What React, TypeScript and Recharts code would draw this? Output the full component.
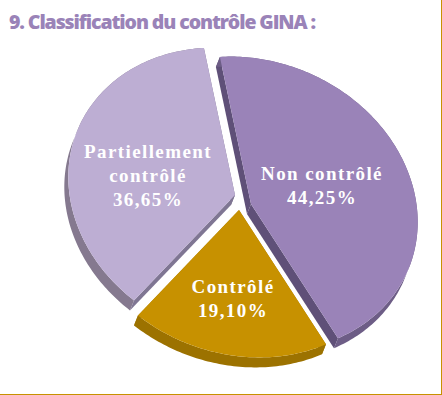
import { Pie, PieChart } from 'recharts';

const categories = ['Non contrôlé', 'Contrôlé', 'Partiellement contrôlé'];
const values = [44.25, 19.1, 36.65];
const valueLabels = ['44,25%', '19,10%', '36,65%'];
const title = '9. Classification du contrôle GINA :';

const topColors = ['#9A83B8', '#C79100', '#BDAED3'];
const edgeColors = ['#5F5078', '#A67A00', '#7F7693'];
const rimColors = ['#6D5D86', '#9C7200', '#85798F'];

// projection du disque 3D d'origine (cercle unité -> écran, y vers le bas)
const PROJ = { a: 166.5, b: -8, c: 11, d: -147 };
const DEPTH_X = -4;
const DEPTH_Y = 10;
// décalage de chaque part éclatée par rapport au centre
const OFFSETS = [
  [11, 2],
  [-1, 8],
  [-5, -7],
];

const LABEL_POS = [
  { x: 322, y: 180 },
  { x: 233, y: 293 },
  { x: 148, y: 158 },
];

const RAD = Math.PI / 180;

function SliceShape(props: any) {
  const { cx, cy, startAngle, endAngle, fill, index } = props;
  const ox = cx + OFFSETS[index][0];
  const oy = cy + OFFSETS[index][1];
  const pt = (deg: number) => {
    const cos = Math.cos(deg * RAD);
    const sin = Math.sin(deg * RAD);
    return [ox + PROJ.a * cos + PROJ.b * sin, oy + PROJ.c * cos + PROJ.d * sin];
  };
  const steps = Math.ceil(Math.abs(endAngle - startAngle));
  const arc: number[][] = [];
  for (let i = 0; i <= steps; i++) {
    arc.push(pt(startAngle + ((endAngle - startAngle) * i) / steps));
  }
  const [ax, ay] = arc[0];
  const [bx, by] = arc[arc.length - 1];
  const top = `M${ox},${oy}` + arc.map((p) => `L${p[0]},${p[1]}`).join('') + 'Z';
  const rim =
    arc.map((p, i) => `${i === 0 ? 'M' : 'L'}${p[0]},${p[1]}`).join('') +
    [...arc].reverse().map((p) => `L${p[0] + DEPTH_X},${p[1] + DEPTH_Y}`).join('') +
    'Z';
  const quad = (x: number, y: number) =>
    `M${ox},${oy}L${x},${y}l${DEPTH_X},${DEPTH_Y}L${ox + DEPTH_X},${oy + DEPTH_Y}Z`;
  return (
    <g>
      <path d={quad(ax, ay)} fill={edgeColors[index]} />
      <path d={quad(bx, by)} fill={edgeColors[index]} />
      <path d={rim} fill={rimColors[index]} />
      <path d={top} fill={fill} />
    </g>
  );
}

function sliceLabel(props: any) {
  const i = props.index;
  const words = i === 2 ? ['Partiellement', 'contrôlé'] : [categories[i]];
  return (
    <text
      key={i}
      x={LABEL_POS[i].x}
      y={LABEL_POS[i].y}
      textAnchor="middle"
      fill="#FFFFFF"
      fontFamily="'Liberation Serif', serif"
      fontWeight="bold"
      fontSize={19}
      letterSpacing={1.4}
    >
      {[...words, valueLabels[i]].map((line, n) => (
        <tspan key={n} x={LABEL_POS[i].x} dy={n === 0 ? 0 : 24}>
          {line}
        </tspan>
      ))}
    </text>
  );
}

const data = categories.map((name, i) => ({ name, value: values[i], fill: topColors[i] }));

export default function App() {
  return (
    <div style={{ position: 'absolute', left: 0, top: 0, width: 442, height: 395, background: '#fff', overflow: 'hidden' }}>
      <div
        style={{
          position: 'absolute',
          left: 9,
          top: 8,
          color: '#9A83B8',
          fontFamily: "'Open Sans', sans-serif",
          fontWeight: 800,
          fontSize: 19.5,
          letterSpacing: -1.1,
          whiteSpace: 'nowrap',
        }}
      >
        {title}
      </div>
      <div style={{ position: 'absolute', right: 0, top: 0, width: 1, height: 395, background: '#C79100' }} />
      <div style={{ position: 'absolute', left: 0, bottom: 0, width: 442, height: 1, background: '#C79100' }} />
      <PieChart width={442} height={395} margin={{ top: 0, right: 0, bottom: 0, left: 0 }}>
        <Pie
          data={data}
          dataKey="value"
          nameKey="name"
          cx={240}
          cy={202}
          innerRadius={0}
          outerRadius={167}
          startAngle={98}
          endAngle={-262}
          paddingAngle={0}
          stroke="none"
          shape={SliceShape}
          label={sliceLabel}
          labelLine={false}
          isAnimationActive={false}
        />
      </PieChart>
    </div>
  );
}
